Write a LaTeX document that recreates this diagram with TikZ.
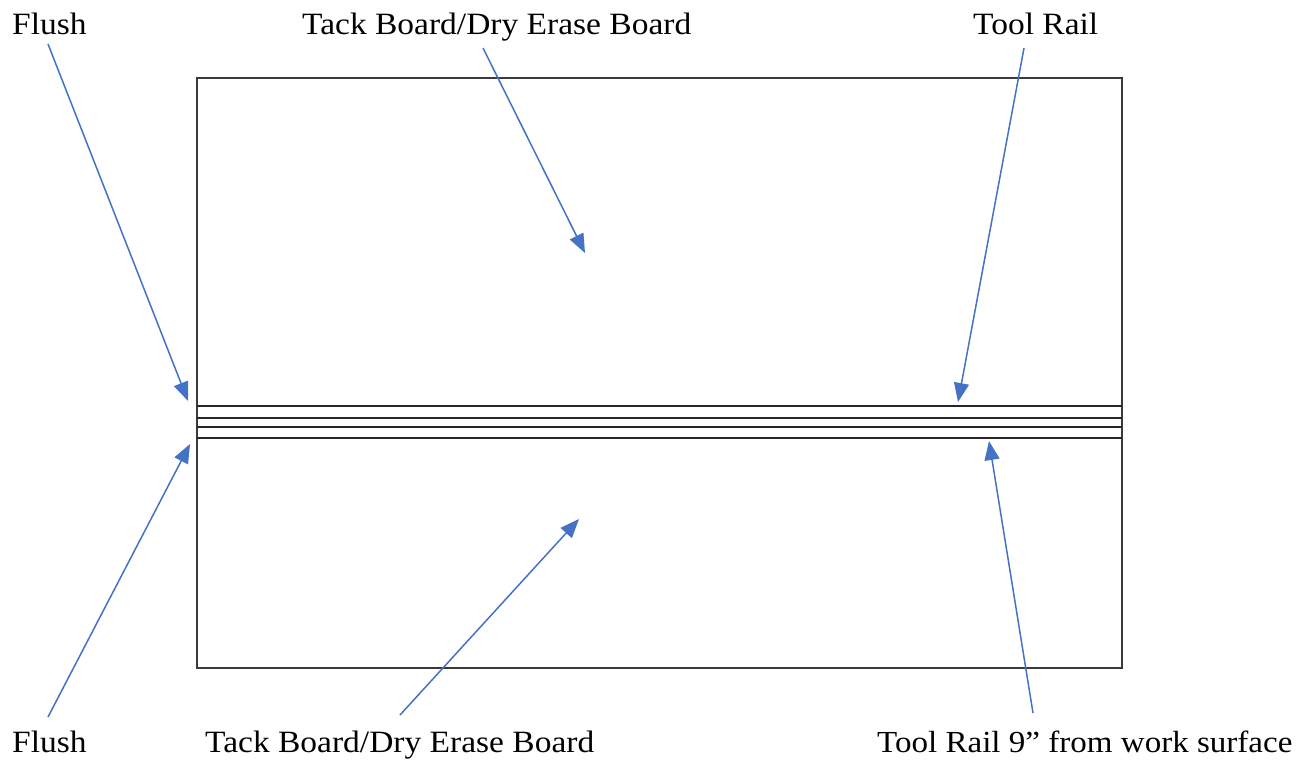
\documentclass[tikz,border=0pt]{standalone}
\usepackage{fontspec}
\setmainfont{Liberation Serif}[FakeStretch=1.08]
\usetikzlibrary{arrows.meta}
\definecolor{arrowblue}{HTML}{4472C4}
\definecolor{boardgray}{HTML}{3A3A3A}
\tikzset{
  lbl/.style={inner sep=0pt, anchor=base west, font=\fontsize{31}{31}\selectfont, text=black},
  pointer/.style={draw=arrowblue, line width=1.5pt, -{Triangle[length=19pt,width=15pt]}},
  board/.style={draw=boardgray, line width=2.2pt},
  rail/.style={draw=black!85, line width=1.8pt},
}
\begin{document}
\begin{tikzpicture}[x=1pt,y=-1pt]
\useasboundingbox (0,0) rectangle (1305,764);
% board
\draw[board] (197,78) rectangle (1122,668);
\foreach \yy in {406,418,427,438} \draw[rail] (197,\yy) -- (1122,\yy);
% labels
\node[lbl] (flushT) at (12,34) {Flush};
\node[lbl] (tackT) at (302,34) {Tack Board/Dry Erase Board};
\node[lbl] (railT) at (973,34) {Tool Rail};
\node[lbl] (flushB) at (12,752) {Flush};
\node[lbl] (tackB) at (205,752) {Tack Board/Dry Erase Board};
\node[lbl, font=\fontsize{30.6}{31}\selectfont] (railB) at (877,752) {Tool Rail 9” from work surface};
% arrow ends
\coordinate (s1) at (48,44);   \coordinate (t1) at (188,401);
\coordinate (s2) at (483,48);  \coordinate (t2) at (585,253);
\coordinate (s3) at (1024,48); \coordinate (t3) at (958,402);
\coordinate (s4) at (48,717);  \coordinate (t4) at (190,444);
\coordinate (s5) at (400,715); \coordinate (t5) at (579,519);
\coordinate (s6) at (1033,713);\coordinate (t6) at (989,441);
\draw[pointer] (s1) -- (t1);
\draw[pointer] (s2) -- (t2);
\draw[pointer] (s3) -- (t3);
\draw[pointer] (s4) -- (t4);
\draw[pointer] (s5) -- (t5);
\draw[pointer] (s6) -- (t6);
\end{tikzpicture}
\end{document}
